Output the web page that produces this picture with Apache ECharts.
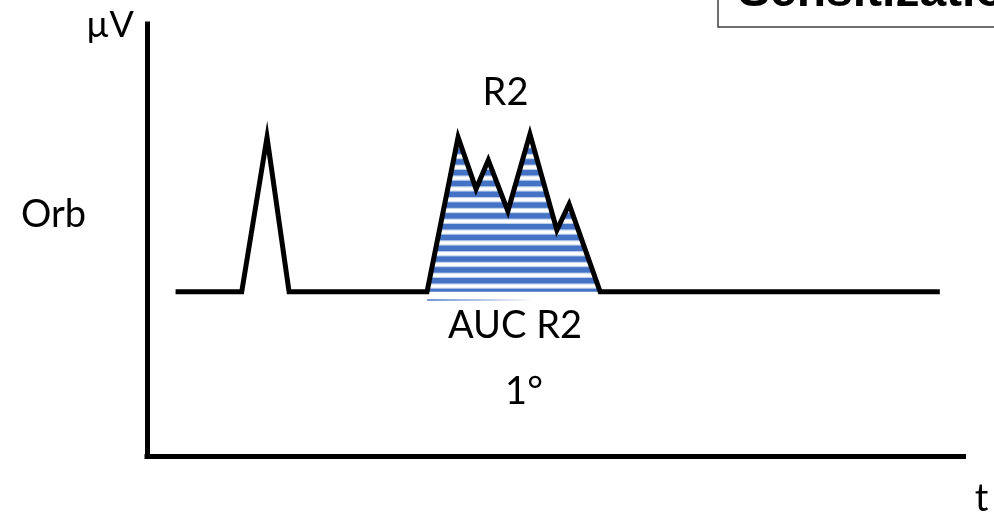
<!DOCTYPE html>
<html>
<head>
<meta charset="utf-8">
<script src="https://cdn.jsdelivr.net/npm/echarts@6/dist/echarts.min.js"></script>
<style>
  html, body { margin: 0; padding: 0; background: #fff; }
  #chart { width: 994px; height: 519px; }
</style>
</head>
<body>
<div id="chart"></div>
<script>
// trace in arbitrary units: t (0..100) vs µV (0..100)
var traceT  = [3.5, 11.6, 14.7, 17.4, 34.3, 38.1, 40.3, 41.8, 44.2, 46.9, 50.2, 51.7, 55.5, 97.1];
var traceUV = [38, 38, 73.8, 38, 38, 73.8, 61.8, 68.5, 56.7, 74.5, 52.3, 58.3, 38, 38];
// R2 complex (area under curve)
var r2T  = [34.3, 38.1, 40.3, 41.8, 44.2, 46.9, 50.2, 51.7, 55.5];
var r2UV = [38, 73.8, 61.8, 68.5, 56.7, 74.5, 52.3, 58.3, 38];
var baseUV = 38;
// faint underline below the AUC
var underT  = [34.3, 47];
var underUV = [36.1, 36.1];

function pairs(xs, ys) {
  var out = [];
  for (var i = 0; i < xs.length; i++) out.push([xs[i], ys[i]]);
  return out;
}

// horizontal stripes for the AUC fill (period ~10.8px)
var stripe = document.createElement('canvas');
stripe.width = 4;
stripe.height = 54;
var ctx = stripe.getContext('2d');
ctx.fillStyle = '#ffffff';
ctx.fillRect(0, 0, 4, 54);
for (var k = -1; k <= 5; k++) {
  var c = 10.7 + 10.8 * k;
  ctx.fillStyle = 'rgba(68,114,196,0.35)';
  ctx.fillRect(0, c - 3.8, 4, 7.6);
  ctx.fillStyle = '#4472C4';
  ctx.fillRect(0, c - 2.7, 4, 5.4);
}

var font = 'Lato';
function label(txt, x, y, size, extra) {
  var st = {
    text: txt, x: x, y: y,
    font: (extra || '') + ' ' + size + 'px ' + font,
    fill: '#000', align: 'center', verticalAlign: 'middle'
  };
  return { type: 'text', style: st, z: 10 };
}

var myChart = echarts.init(document.getElementById('chart'));
var option = {
  backgroundColor: '#fff',
  animation: false,
  grid: { left: 147, right: 30.5, top: 24, bottom: 63 },
  xAxis: {
    type: 'value', min: 0, max: 100,
    axisLine: { show: true, lineStyle: { color: '#000', width: 5, cap: 'square' } },
    axisTick: { show: false }, axisLabel: { show: false }, splitLine: { show: false }
  },
  yAxis: {
    type: 'value', min: 0, max: 100,
    axisLine: { show: true, lineStyle: { color: '#000', width: 5, cap: 'square' } },
    axisTick: { show: false }, axisLabel: { show: false }, splitLine: { show: false }
  },
  series: [
    {
      name: 'AUC R2',
      type: 'line',
      data: pairs(r2T, r2UV),
      showSymbol: false,
      lineStyle: { width: 0 },
      areaStyle: { origin: baseUV, color: { image: stripe, repeat: 'repeat' }, opacity: 1 },
      z: 1
    },
    {
      name: 'underline',
      type: 'line',
      data: pairs(underT, underUV),
      showSymbol: false,
      lineStyle: {
        width: 2,
        color: new echarts.graphic.LinearGradient(0, 0, 1, 0, [
          { offset: 0, color: 'rgba(68,114,196,0.75)' },
          { offset: 0.6, color: 'rgba(68,114,196,0.35)' },
          { offset: 1, color: 'rgba(68,114,196,0)' }
        ])
      },
      z: 1
    },
    {
      name: 'Orb',
      type: 'line',
      data: pairs(traceT, traceUV),
      showSymbol: false,
      lineStyle: { color: '#000', width: 5, join: 'miter', miterLimit: 20, cap: 'butt' },
      z: 3
    }
  ],
  graphic: [
    {
      type: 'rect',
      shape: { x: 718, y: -10, width: 300, height: 37 },
      style: { fill: '#fff', stroke: '#404040', lineWidth: 1.5 },
      z: 20
    },
    {
      type: 'text',
      style: { text: 'Sensitization', x: 738, y: -7, font: 'bold 48px "Liberation Sans"', fill: '#000', align: 'left', verticalAlign: 'middle' },
      z: 21
    },
    label('µV', 110, 25, 36),
    label('Orb', 53.5, 215, 38),
    label('R2', 505.5, 92.5, 38),
    label('AUC R2', 515, 326, 38),
    label('1°', 524, 392, 38),
    label('t', 981.5, 499, 38)
  ]
};
myChart.setOption(option);
</script>
</body>
</html>
